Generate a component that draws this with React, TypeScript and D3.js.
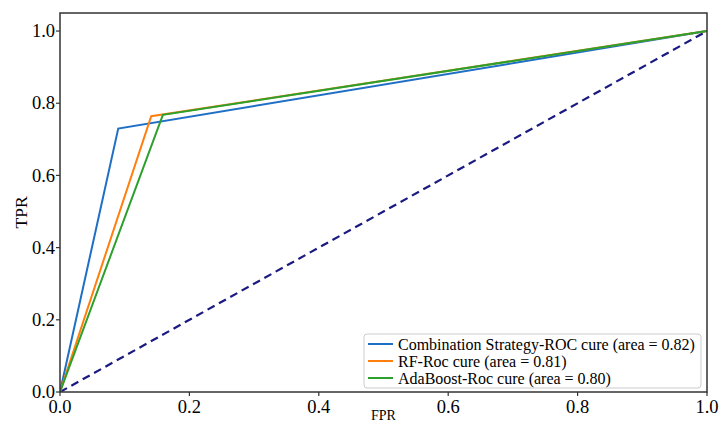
import React from "react";
import * as d3 from "d3";

const seriesNames = [
  "Combination Strategy-ROC cure (area = 0.82)",
  "RF-Roc cure (area = 0.81)",
  "AdaBoost-Roc cure (area = 0.80)",
];
const seriesColors = ["#1f6fc5", "#ff7f0e", "#2ca02c"];
const fprValues = [
  [0, 0.09, 1],
  [0, 0.141, 1],
  [0, 0.159, 1],
];
const tprValues = [
  [0, 0.73, 1],
  [0, 0.764, 1],
  [0, 0.768, 1],
];
const diagX = [0, 1];
const diagY = [0, 1];
const xTicks = [0, 0.2, 0.4, 0.6, 0.8, 1.0];
const yTicks = [0, 0.2, 0.4, 0.6, 0.8, 1.0];

export default function App() {
  const W = 722, H = 428;
  const left = 60, right = 707, top = 13, bottom = 392;
  const x = d3.scaleLinear().domain([0, 1]).range([left, right]);
  const y = d3.scaleLinear().domain([0, 1.05]).range([bottom, top]);
  const line = d3.line<[number, number]>().x(d => x(d[0])).y(d => y(d[1]));
  const font = "'Liberation Serif', 'Times New Roman', serif";
  const lx = 364, ly = 334, lw = 337, lh = 54;
  return (
    <svg width={W} height={H} style={{ position: "absolute", left: 0, top: 0 }}>
      <rect width={W} height={H} fill="#fff" />
      <defs>
        <clipPath id="pa"><rect x={left} y={top} width={right - left} height={bottom - top} /></clipPath>
      </defs>
      <g clipPath="url(#pa)">
        <path d={line(diagX.map((v, i) => [v, diagY[i]]) as any) || ""} fill="none" stroke="#1a1a80" strokeWidth={2.2} strokeDasharray="8,5" />
        {seriesNames.map((n, s) => (
          <path key={n} d={line(fprValues[s].map((v, i) => [v, tprValues[s][i]]) as any) || ""} fill="none" stroke={seriesColors[s]} strokeWidth={2} />
        ))}
      </g>
      <rect x={left} y={top} width={right - left} height={bottom - top} fill="none" stroke="#333" strokeWidth={1.5} />
      {xTicks.map(t => (
        <g key={"x" + t}>
          <line x1={x(t)} x2={x(t)} y1={bottom} y2={bottom + 4} stroke="#333" strokeWidth={1.2} />
          <text x={x(t)} y={bottom + 21} textAnchor="middle" fontFamily={font} fontSize={18.5}>{t.toFixed(1)}</text>
        </g>
      ))}
      {yTicks.map(t => (
        <g key={"y" + t}>
          <line x1={left - 4} x2={left} y1={y(t)} y2={y(t)} stroke="#333" strokeWidth={1.2} />
          <text x={left - 5} y={y(t) + 6.2} textAnchor="end" fontFamily={font} fontSize={18.5}>{t.toFixed(1)}</text>
        </g>
      ))}
      <text x={(left + right) / 2} y={420} textAnchor="middle" fontFamily={font} fontSize={14}>FPR</text>
      <text transform={`translate(27,${(top + bottom) / 2 + 10}) rotate(-90)`} textAnchor="middle" fontFamily={font} fontSize={17.5}>TPR</text>
      <rect x={lx} y={ly} width={lw} height={lh} rx={3} fill="#fff" fillOpacity={0.85} stroke="#ccc" strokeWidth={1} />
      {seriesNames.map((n, i) => (
        <g key={"l" + n}>
          <line x1={lx + 4} x2={lx + 29} y1={ly + 10 + i * 17} y2={ly + 10 + i * 17} stroke={seriesColors[i]} strokeWidth={2} />
          <text x={lx + 34} y={ly + 15.5 + i * 17} fontFamily={font} fontSize={16}>{n}</text>
        </g>
      ))}
    </svg>
  );
}
